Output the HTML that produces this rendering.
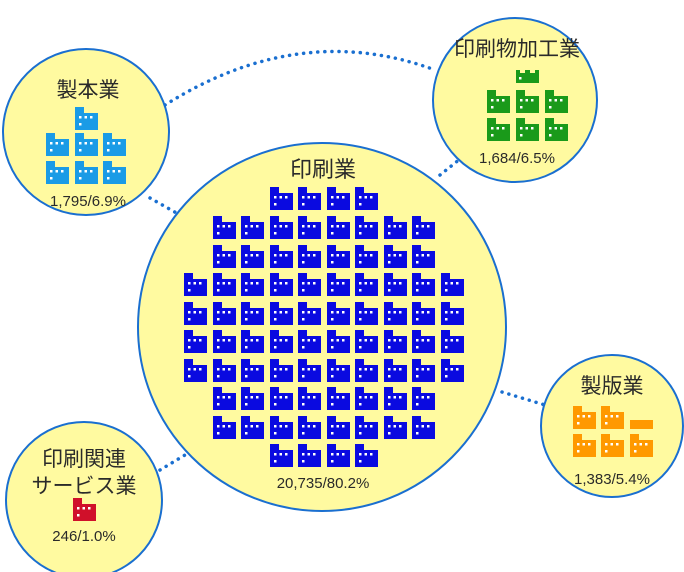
<!DOCTYPE html>
<html><head><meta charset="utf-8"><style>
body{margin:0;background:#fff}
svg{display:block}
text{font-family:"Liberation Sans","Noto Sans CJK JP",sans-serif;fill:#2a2a2a}
</style></head><body>
<svg width="684" height="572" viewBox="0 0 684 572" xmlns="http://www.w3.org/2000/svg">
<defs>
<g id="f"><path d="M0 0H9V6H23V23H0Z"/><g fill="#fff"><rect x="4" y="9" width="2.5" height="2.5"/><rect x="9.5" y="9" width="2.5" height="2.5"/><rect x="15" y="9" width="2.5" height="2.5"/><rect x="4" y="16" width="2.5" height="2.5"/></g></g>
</defs>
<g stroke="#1a6fd0" stroke-width="3.5" stroke-dasharray="0.1 7" stroke-linecap="round" fill="none">
<path d="M165 105 Q300 20 435 70"/>
<line x1="150" y1="198" x2="180" y2="215"/>
<line x1="440" y1="175" x2="465" y2="155"/>
<line x1="502" y1="392" x2="545" y2="405"/>
<line x1="160" y1="470" x2="190" y2="452"/>
</g>
<g fill="#fffaa0" stroke="#1a6fd0" stroke-width="2">
<circle cx="322" cy="327" r="184"/>
<circle cx="86" cy="132" r="83"/>
<circle cx="515" cy="100" r="82"/>
<circle cx="612" cy="426" r="71"/>
<circle cx="84" cy="500" r="78"/>
</g>
<text x="323" y="177" font-size="22" text-anchor="middle">印刷業</text>
<text x="323" y="488" font-size="15" text-anchor="middle">20,735/80.2%</text>
<text x="88" y="97" font-size="21" text-anchor="middle">製本業</text>
<text x="88" y="206" font-size="15" text-anchor="middle">1,795/6.9%</text>
<text x="517" y="56" font-size="21" text-anchor="middle">印刷物加工業</text>
<text x="517" y="163" font-size="15" text-anchor="middle">1,684/6.5%</text>
<text x="612" y="393" font-size="21" text-anchor="middle">製版業</text>
<text x="612" y="484" font-size="15" text-anchor="middle">1,383/5.4%</text>
<text x="84" y="466" font-size="21" text-anchor="middle">印刷関連</text>
<text x="84" y="493" font-size="21" text-anchor="middle">サービス業</text>
<text x="84" y="541" font-size="15" text-anchor="middle">246/1.0%</text>
<g fill="#0a0ae0">
<use href="#f" x="270" y="187"/><use href="#f" x="298" y="187"/><use href="#f" x="327" y="187"/><use href="#f" x="355" y="187"/>
<g id="r8"><use href="#f" x="213" y="216"/><use href="#f" x="241" y="216"/><use href="#f" x="270" y="216"/><use href="#f" x="298" y="216"/><use href="#f" x="327" y="216"/><use href="#f" x="355" y="216"/><use href="#f" x="384" y="216"/><use href="#f" x="412" y="216"/></g>
<use href="#r8" y="29"/>
<g id="r10"><use href="#f" x="184" y="273"/><use href="#r8" y="57"/><use href="#f" x="441" y="273"/></g>
<use href="#r10" y="29"/><use href="#r10" y="57"/><use href="#r10" y="86"/>
<use href="#r8" y="171"/><use href="#r8" y="200"/>
<use href="#f" x="270" y="444"/><use href="#f" x="298" y="444"/><use href="#f" x="327" y="444"/><use href="#f" x="355" y="444"/>
</g>
<g fill="#1a9be6">
<use href="#f" x="75" y="107"/>
<use href="#f" x="46" y="133"/><use href="#f" x="75" y="133"/><use href="#f" x="103" y="133"/>
<use href="#f" x="46" y="161"/><use href="#f" x="75" y="161"/><use href="#f" x="103" y="161"/>
</g>
<g fill="#1a9a1a">
<path d="M516 83V70H520V73H525V70H530V73H535V70H539V83Z"/>
<rect x="519" y="77" width="2.5" height="2.5" fill="#fff"/>
<use href="#f" x="487" y="90"/><use href="#f" x="516" y="90"/><use href="#f" x="545" y="90"/>
<use href="#f" x="487" y="118"/><use href="#f" x="516" y="118"/><use href="#f" x="545" y="118"/>
</g>
<g fill="#ff9900">
<use href="#f" x="573" y="406"/><use href="#f" x="601" y="406"/>
<path d="M630 420H653V429H630Z"/>
<use href="#f" x="573" y="434"/><use href="#f" x="601" y="434"/><use href="#f" x="630" y="434"/>
</g>
<g fill="#d0102a"><use href="#f" x="73" y="498"/></g>
</svg>
</body></html>
